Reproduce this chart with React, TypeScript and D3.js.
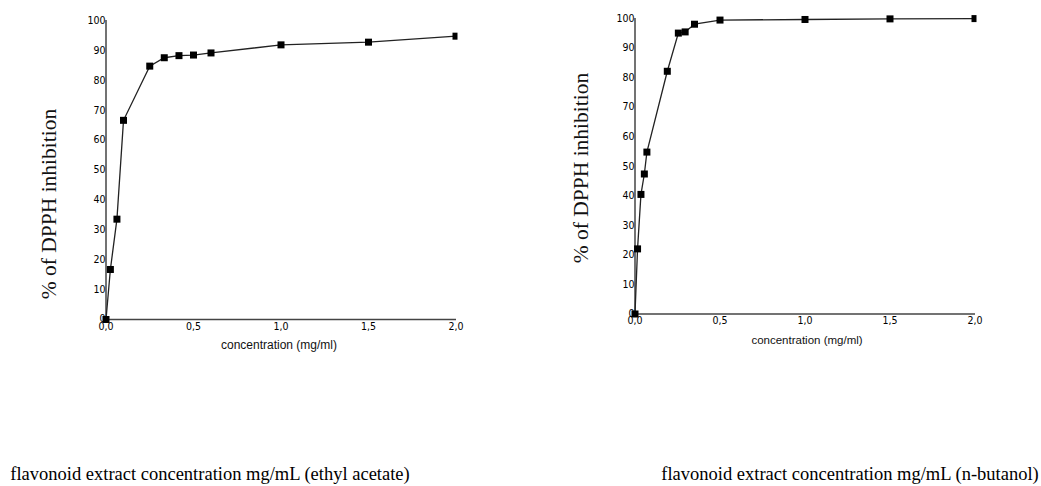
import React, { useEffect, useRef } from 'react';
import * as d3 from 'd3';

// ethyl acetate extract
const acetateConc = [0, 0.025, 0.0625, 0.1, 0.25, 0.333, 0.417, 0.5, 0.6, 1.0, 1.5, 2.0];
const acetateInhib = [0, 16.7, 33.5, 66.5, 84.6, 87.4, 88.1, 88.3, 89.0, 91.7, 92.6, 94.6];

// n-butanol extract
const butanolConc = [0, 0.015, 0.035, 0.055, 0.07, 0.19, 0.255, 0.295, 0.35, 0.5, 1.0, 1.5, 2.0];
const butanolInhib = [0, 22.0, 40.4, 47.3, 54.7, 82.0, 94.9, 95.3, 97.9, 99.3, 99.5, 99.7, 99.8];

const xTicks = [0, 0.5, 1.0, 1.5, 2.0];
const yTicks = [0, 10, 20, 30, 40, 50, 60, 70, 80, 90, 100];

const yTitle = '% of DPPH inhibition';
const xTitle = 'concentration (mg/ml)';
const captions = [
  'flavonoid extract concentration mg/mL (ethyl acetate)',
  'flavonoid extract concentration mg/mL (n-butanol)',
];

const tickFont = '"DejaVu Sans Condensed", "Liberation Sans Narrow", "Arial Narrow", sans-serif';
const fmt = (v) => v.toFixed(1).replace('.', ',');

const panels = [
  { conc: acetateConc, inhib: acetateInhib, x0: 106, x1: 456, y0: 319.5, y1: 20, titleX: 56, titleY: 204, xTitleX: 279, xTitleY: 349, xTitleSize: 12, capX: 210 },
  { conc: butanolConc, inhib: butanolInhib, x0: 635, x1: 975, y0: 314, y1: 18, titleX: 588, titleY: 168, xTitleX: 807, xTitleY: 344, xTitleSize: 11.5, capX: 850 },
];

const App = () => {
  const ref = useRef(null);

  useEffect(() => {
    const svg = d3.select(ref.current);
    svg.selectAll('*').remove();

    panels.forEach((p, idx) => {
      const x = d3.scaleLinear().domain([0, 2]).range([p.x0, p.x1]);
      const y = d3.scaleLinear().domain([0, 100]).range([p.y0, p.y1]);
      const g = svg.append('g');

      // axes (no tick marks, labels hugging the lines)
      g.append('line')
        .attr('x1', p.x0).attr('x2', p.x0)
        .attr('y1', y(100)).attr('y2', p.y0)
        .attr('stroke', '#444').attr('stroke-width', 1.5);
      g.append('line')
        .attr('x1', p.x0).attr('x2', x(2))
        .attr('y1', p.y0).attr('y2', p.y0)
        .attr('stroke', '#444').attr('stroke-width', 1.5);

      g.selectAll('.ytick')
        .data(yTicks)
        .enter()
        .append('text')
        .attr('x', p.x0 - 0.5)
        .attr('y', d => y(d) - (d === 0 ? 1 : 0))
        .attr('dy', '0.35em')
        .attr('text-anchor', 'end')
        .style('font-family', tickFont)
        .style('font-size', '10.5px')
        .attr('fill', '#000')
        .text(d => d);

      g.selectAll('.xtick')
        .data(xTicks)
        .enter()
        .append('text')
        .attr('x', d => x(d))
        .attr('y', p.y0 + 10)
        .attr('text-anchor', 'middle')
        .style('font-family', tickFont)
        .style('font-size', '10.5px')
        .attr('fill', '#000')
        .text(d => fmt(d));

      const pts = p.conc.map((c, i) => [c, p.inhib[i]]);

      g.append('path')
        .datum(pts)
        .attr('fill', 'none')
        .attr('stroke', '#222')
        .attr('stroke-width', 1.3)
        .attr('d', d3.line().x(d => x(d[0])).y(d => y(d[1])));

      g.selectAll('.pt')
        .data(pts)
        .enter()
        .append('rect')
        .attr('x', d => x(d[0]) - 3.5)
        .attr('y', d => y(d[1]) - 3.5)
        .attr('width', d => (d[0] === 2 ? 5 : 7))
        .attr('height', 7)
        .attr('fill', '#000');

      g.append('text')
        .attr('transform', `translate(${p.titleX},${p.titleY}) rotate(-90)`)
        .attr('text-anchor', 'middle')
        .style('font-family', '"Liberation Serif", "Times New Roman", serif')
        .style('font-size', '21.5px')
        .attr('fill', '#111')
        .text(yTitle);

      g.append('text')
        .attr('x', p.xTitleX)
        .attr('y', p.xTitleY)
        .attr('text-anchor', 'middle')
        .style('font-family', '"Liberation Sans", Arial, sans-serif')
        .style('font-size', `${p.xTitleSize}px`)
        .attr('fill', '#111')
        .text(xTitle);

      g.append('text')
        .attr('x', p.capX)
        .attr('y', 480)
        .attr('text-anchor', 'middle')
        .style('font-family', '"Liberation Serif", "Times New Roman", serif')
        .style('font-size', '18.5px')
        .attr('fill', '#000')
        .text(captions[idx]);
    });
  }, []);

  return (
    <div style={{ position: 'absolute', left: 0, top: 0 }}>
      <svg ref={ref} width={1041} height={486} style={{ display: 'block', background: '#fff' }}></svg>
    </div>
  );
};

export default App;
